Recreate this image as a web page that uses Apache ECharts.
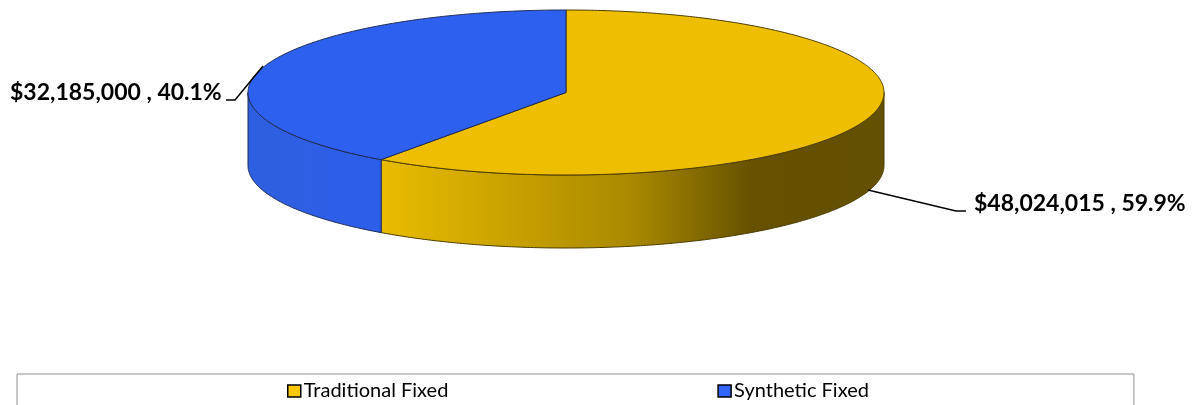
<!DOCTYPE html>
<html>
<head>
<meta charset="utf-8">
<style>html,body{margin:0;padding:0;background:#fff}#chart{width:1198px;height:405px}</style>
<script src="https://cdn.jsdelivr.net/npm/echarts@6/dist/echarts.min.js"></script>
</head>
<body>
<div id="chart"></div>
<script>
// Portfolio split between the two fixed-income product types
const categories = ['Traditional Fixed', 'Synthetic Fixed'];
const amounts = [48024015, 32185000];
const legendColors = ['#FFC800', '#3366FF'];
const topColors = ['#EEBF00', '#2E60F0'];

// Tilted disc geometry
const disc = { cx: 566, cy: 92.5, rx: 318, ry: 82.5, depth: 73 };
const total = amounts.reduce((a, b) => a + b, 0);

// Angles run clockwise from twelve o'clock, in radians
function point(theta, drop) {
  return [disc.cx + disc.rx * Math.sin(theta), disc.cy - disc.ry * Math.cos(theta) + (drop || 0)];
}
function arc(from, to, drop) {
  const steps = Math.max(2, Math.ceil(Math.abs(to - from) / 0.01));
  const pts = [];
  for (let i = 0; i <= steps; i++) pts.push(point(from + (to - from) * i / steps, drop));
  return pts;
}
function sliceRange(index) {
  let before = 0;
  for (let i = 0; i < index; i++) before += amounts[i];
  return [before / total * 2 * Math.PI, (before + amounts[index]) / total * 2 * Math.PI];
}
function money(v) {
  return '$' + v.toLocaleString('en-US');
}

const sideFills = [
  { type: 'linear', x: 381, y: 0, x2: 884, y2: 0, global: true, colorStops: [
    { offset: 0, color: '#E9BC00' }, { offset: 0.5, color: '#A98900' },
    { offset: 0.74, color: '#655100' }, { offset: 1, color: '#635000' } ] },
  { type: 'linear', x: 248, y: 0, x2: 381, y2: 0, global: true, colorStops: [
    { offset: 0, color: '#2E5FDF' }, { offset: 1, color: '#2D5EEA' } ] }
];
const edgeColors = ['#4A3C00', '#1E2C55'];
const labelSpots = [
  { x: 974, y: 204, line: [[868, 190], [956, 211], [966, 211]] },
  { x: 10, y: 93, line: [[263, 66], [235, 100], [226, 100]] }
];

function renderSlice(index) {
  return function (params, api) {
    const [a0, a1] = sliceRange(index);
    const value = api.value(0);
    const children = [];
    // Only the front half of the rim faces the viewer
    const s0 = Math.max(a0, Math.PI / 2);
    const s1 = Math.min(a1, Math.PI * 3 / 2);
    if (s1 > s0) {
      children.push({
        type: 'polygon',
        shape: { points: arc(s0, s1, 0).concat(arc(s1, s0, disc.depth)) },
        style: { fill: sideFills[index], stroke: edgeColors[index], lineWidth: 1 }
      });
    }
    children.push({
      type: 'polygon',
      shape: { points: [[disc.cx, disc.cy]].concat(arc(a0, a1, 0)) },
      style: { fill: topColors[index], stroke: edgeColors[index], lineWidth: 1 }
    });
    const spot = labelSpots[index];
    children.push({
      type: 'polyline',
      shape: { points: spot.line },
      style: { fill: null, stroke: '#000', lineWidth: 1.5 }
    });
    children.push({
      type: 'text',
      style: {
        x: spot.x, y: spot.y,
        text: money(value) + ' , ' + (value / total * 100).toFixed(1) + '%',
        font: 'bold 23px Lato', fill: '#000',
        textAlign: 'left', textVerticalAlign: 'middle'
      }
    });
    return { type: 'group', children };
  };
}

const chart = echarts.init(document.getElementById('chart'), null, { renderer: 'canvas' });
chart.setOption({
  animation: false,
  backgroundColor: '#fff',
  legend: {
    left: 17, top: 374,
    padding: [7, 265, 14, 270],
    icon: 'rect',
    itemWidth: 13, itemHeight: 12, itemGap: 269,
    data: categories,
    backgroundColor: '#fff',
    borderColor: '#909090', borderWidth: 1,
    selectedMode: false,
    itemStyle: { borderColor: '#000', borderWidth: 1.5 },
    textStyle: { fontFamily: 'Lato', fontSize: 20, color: '#000', padding: [0, 0, 0, -2] }
  },
  series: categories.map((name, i) => ({
    type: 'custom',
    name,
    coordinateSystem: 'none',
    silent: true,
    itemStyle: { color: legendColors[i] },
    renderItem: renderSlice(i),
    data: [[amounts[i]]]
  }))
});
</script>
</body>
</html>
